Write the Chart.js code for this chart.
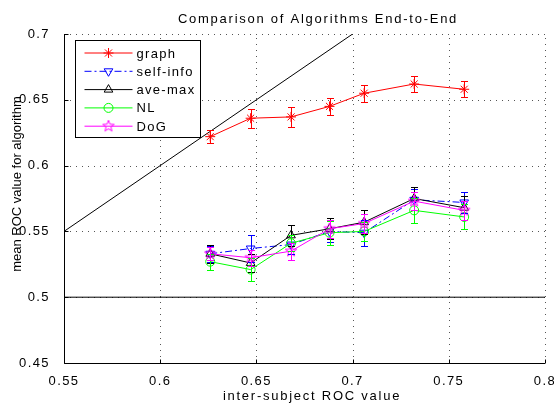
<!DOCTYPE html>
<html>
<head>
<meta charset="utf-8">
<script src="https://cdn.jsdelivr.net/npm/chart.js"></script>
<style>
  body { margin: 0; background: #fff; }
  canvas { display: block; }
</style>
</head>
<body>
<canvas id="chart" width="554" height="403"></canvas>
<script>
// ----- data -----
const xVals = [0.626, 0.647, 0.668, 0.688, 0.706, 0.732, 0.758];

const graphVals = [0.622, 0.636, 0.637, 0.645, 0.655, 0.662, 0.658];
const graphErr = [0.005, 0.0073, 0.0075, 0.0063, 0.0063, 0.006, 0.006];

const selfInfoVals = [0.533, 0.537, 0.540, 0.550, 0.549, 0.574, 0.572];
const selfInfoErr = [0.006, 0.010, 0.007, 0.008, 0.010, 0.008, 0.008];

const aveMaxVals = [0.533, 0.526, 0.547, 0.552, 0.557, 0.575, 0.568];
const aveMaxErr = [0.007, 0.007, 0.008, 0.008, 0.009, 0.009, 0.009];

const nlVals = [0.527, 0.521, 0.541, 0.549, 0.550, 0.566, 0.561];
const nlErr = [0.006, 0.009, 0.006, 0.009, 0.007, 0.0095, 0.0095];

const dogVals = [0.533, 0.530, 0.535, 0.552, 0.556, 0.573, 0.566];
const dogErr = [0.005, 0.006, 0.0065, 0.007, 0.007, 0.007, 0.007];

// reference lines: y = x diagonal and chance level
const diagX = [0.5, 0.8];
const chanceX = [0.55, 0.8];
const chanceY = [0.5, 0.5];

const xTicks = [0.55, 0.6, 0.65, 0.7, 0.75, 0.8];
const yTicks = [0.45, 0.5, 0.55, 0.6, 0.65, 0.7];

const FONT = '"Liberation Sans", Arial, Helvetica, sans-serif';

const pts = (xs, ys) => xs.map((x, i) => ({ x, y: ys[i] }));

// pentagram marker (MATLAB 'p')
function pentagram(color, r) {
  const c = document.createElement('canvas');
  c.width = c.height = 2 * r + 2;
  const g = c.getContext('2d');
  g.strokeStyle = color;
  g.lineWidth = 1;
  g.beginPath();
  for (let i = 0; i < 10; i++) {
    const a = -Math.PI / 2 + i * Math.PI / 5;
    const rr = i % 2 ? r * 0.42 : r;
    const px = r + 1 + rr * Math.cos(a), py = r + 1 + rr * Math.sin(a);
    i ? g.lineTo(px, py) : g.moveTo(px, py);
  }
  g.closePath();
  g.stroke();
  return c;
}
const dogStar = pentagram('#ff00ff', 6);

function series(label, vals, err, color, style, extra) {
  return Object.assign({
    label, err,
    data: pts(xVals, vals),
    borderColor: color,
    backgroundColor: 'rgba(0,0,0,0)',
    borderWidth: 1,
    pointStyle: style,
    pointRadius: 5,
    pointBorderWidth: 1,
    pointBorderColor: color,
    pointBackgroundColor: 'rgba(0,0,0,0)',
    tension: 0,
    fill: false,
    inLegend: true
  }, extra || {});
}

const datasets = [
  series('graph', graphVals, graphErr, '#ff0000', 'star', { order: 5, pointRadius: 5 }),
  series('self-info', selfInfoVals, selfInfoErr, '#0000ff', 'triangle', { order: 4, borderDash: [7, 3, 2, 3], pointRotation: 180 }),
  series('ave-max', aveMaxVals, aveMaxErr, '#000000', 'triangle', { order: 3 }),
  series('NL', nlVals, nlErr, '#00ff00', 'circle', { order: 2, pointRadius: 4.5 }),
  series('DoG', dogVals, dogErr, '#ff00ff', dogStar, { order: 1 }),
  { label: 'diag', data: pts(diagX, diagX), borderColor: '#000', borderWidth: 1, pointRadius: 0, order: 6 },
  { label: 'chance', data: pts(chanceX, chanceY), borderColor: '#000', borderWidth: 1, pointRadius: 0, order: 6 }
];

// canvas size resets context state, so spacing is set just before drawing
const spacing = {
  id: 'spacing',
  beforeDraw(chart) { chart.ctx.letterSpacing = '1.4px'; }
};

// dotted grid, solid left/bottom axes, inward ticks
const axesPlugin = {
  id: 'axesPlugin',
  beforeDatasetsDraw(chart) {
    const { ctx, chartArea: a, scales: { x, y } } = chart;
    ctx.save();
    ctx.strokeStyle = '#555';
    ctx.lineWidth = 1;
    ctx.setLineDash([1, 5]);
    xTicks.slice(1).forEach(v => {
      const px = Math.round(x.getPixelForValue(v)) + 0.5;
      ctx.beginPath(); ctx.moveTo(px, a.bottom); ctx.lineTo(px, a.top); ctx.stroke();
    });
    yTicks.slice(1).forEach(v => {
      const py = Math.round(y.getPixelForValue(v)) + 0.5;
      ctx.beginPath(); ctx.moveTo(a.left, py); ctx.lineTo(a.right, py); ctx.stroke();
    });
    ctx.setLineDash([]);
    ctx.strokeStyle = '#000';
    const l = Math.round(a.left) + 0.5, b = Math.round(a.bottom) + 0.5;
    ctx.beginPath(); ctx.moveTo(l, a.top); ctx.lineTo(l, b); ctx.lineTo(a.right, b); ctx.stroke();
    xTicks.forEach(v => {
      const px = Math.round(x.getPixelForValue(v)) + 0.5;
      ctx.beginPath(); ctx.moveTo(px, b); ctx.lineTo(px, b - 4); ctx.stroke();
    });
    yTicks.forEach(v => {
      const py = Math.round(y.getPixelForValue(v)) + 0.5;
      ctx.beginPath(); ctx.moveTo(l, py); ctx.lineTo(l + 4, py); ctx.stroke();
    });
    ctx.restore();
  }
};

// vertical error bars with caps
const errorBars = {
  id: 'errorBars',
  afterDatasetsDraw(chart) {
    const { ctx, scales: { x, y } } = chart;
    ctx.save();
    ctx.lineWidth = 1;
    chart.data.datasets.forEach(ds => {
      if (!ds.err) return;
      ctx.strokeStyle = ds.borderColor;
      ds.data.forEach((p, i) => {
        const px = Math.round(x.getPixelForValue(p.x)) + 0.5;
        const top = Math.round(y.getPixelForValue(p.y + ds.err[i])) + 0.5;
        const bot = Math.round(y.getPixelForValue(p.y - ds.err[i])) + 0.5;
        ctx.beginPath();
        ctx.moveTo(px, top); ctx.lineTo(px, bot);
        ctx.moveTo(px - 3.5, top); ctx.lineTo(px + 3.5, top);
        ctx.moveTo(px - 3.5, bot); ctx.lineTo(px + 3.5, bot);
        ctx.stroke();
      });
    });
    ctx.restore();
  }
};

// titles and boxed legend
const decorations = {
  id: 'decorations',
  afterDraw(chart) {
    const { ctx, chartArea: a } = chart;
    ctx.save();
    ctx.fillStyle = '#000';
    ctx.textAlign = 'center';
    ctx.textBaseline = 'middle';
    ctx.font = '13px ' + FONT;
    ctx.letterSpacing = '1.75px';
    ctx.fillText('Comparison of Algorithms End-to-End', 318, 19);
    ctx.fillText('inter-subject ROC value', 312, 396);
    ctx.letterSpacing = '0px';
    ctx.save();
    ctx.translate(17, 184);
    ctx.rotate(-Math.PI / 2);
    ctx.fillText('mean ROC value for algorithm', 0, 0);
    ctx.restore();

    // legend
    const bx = a.left + 11.5, by = a.top + 6.5, bw = 125, bh = 97;
    ctx.fillStyle = '#fff';
    ctx.fillRect(bx, by, bw, bh);
    ctx.strokeStyle = '#000';
    ctx.lineWidth = 1;
    ctx.strokeRect(bx, by, bw, bh);
    ctx.letterSpacing = '1.3px';
    const items = chart.data.datasets.filter(d => d.inLegend);
    items.forEach((ds, i) => {
      const ry = by + 12.5 + i * 18.3;
      ctx.strokeStyle = ds.borderColor;
      ctx.setLineDash(ds.borderDash || []);
      ctx.beginPath(); ctx.moveTo(bx + 9, ry); ctx.lineTo(bx + 57, ry); ctx.stroke();
      ctx.setLineDash([]);
      ctx.fillStyle = 'rgba(0,0,0,0)';
      Chart.helpers.drawPoint(ctx, {
        pointStyle: ds.pointStyle,
        radius: ds.pointRadius,
        rotation: ds.pointRotation || 0,
        borderWidth: 1
      }, bx + 33, ry);
      ctx.fillStyle = '#000';
      ctx.textAlign = 'left';
      ctx.fillText(ds.label, bx + 61, ry + 1);
    });
    ctx.restore();
  }
};

const canvas = document.getElementById('chart');

new Chart(canvas.getContext('2d'), {
  type: 'line',
  data: { datasets },
  plugins: [spacing, axesPlugin, errorBars, decorations],
  options: {
    responsive: false,
    animation: false,
    devicePixelRatio: 1,
    layout: { padding: { top: 34, right: 9, left: 0, bottom: 0 } },
    plugins: { legend: { display: false }, title: { display: false }, tooltip: { enabled: false } },
    scales: {
      x: {
        type: 'linear', min: 0.55, max: 0.8,
        afterBuildTicks: s => { s.ticks = xTicks.map(v => ({ value: v })); },
        afterFit: s => { s.height = 40; s.paddingLeft = 0; s.paddingRight = 0; },
        grid: { display: false },
        border: { display: false },
        ticks: { color: '#000', padding: 3, maxRotation: 0, font: { family: FONT, size: 13 }, callback: v => String(v) }
      },
      y: {
        type: 'linear', min: 0.45, max: 0.7,
        afterBuildTicks: s => { s.ticks = yTicks.map(v => ({ value: v })); },
        afterFit: s => { s.width = 64; s.paddingTop = 0; s.paddingBottom = 0; },
        grid: { display: false },
        border: { display: false },
        ticks: { color: '#000', padding: 6, font: { family: FONT, size: 13 }, callback: v => String(v) }
      }
    }
  }
});
</script>
</body>
</html>
